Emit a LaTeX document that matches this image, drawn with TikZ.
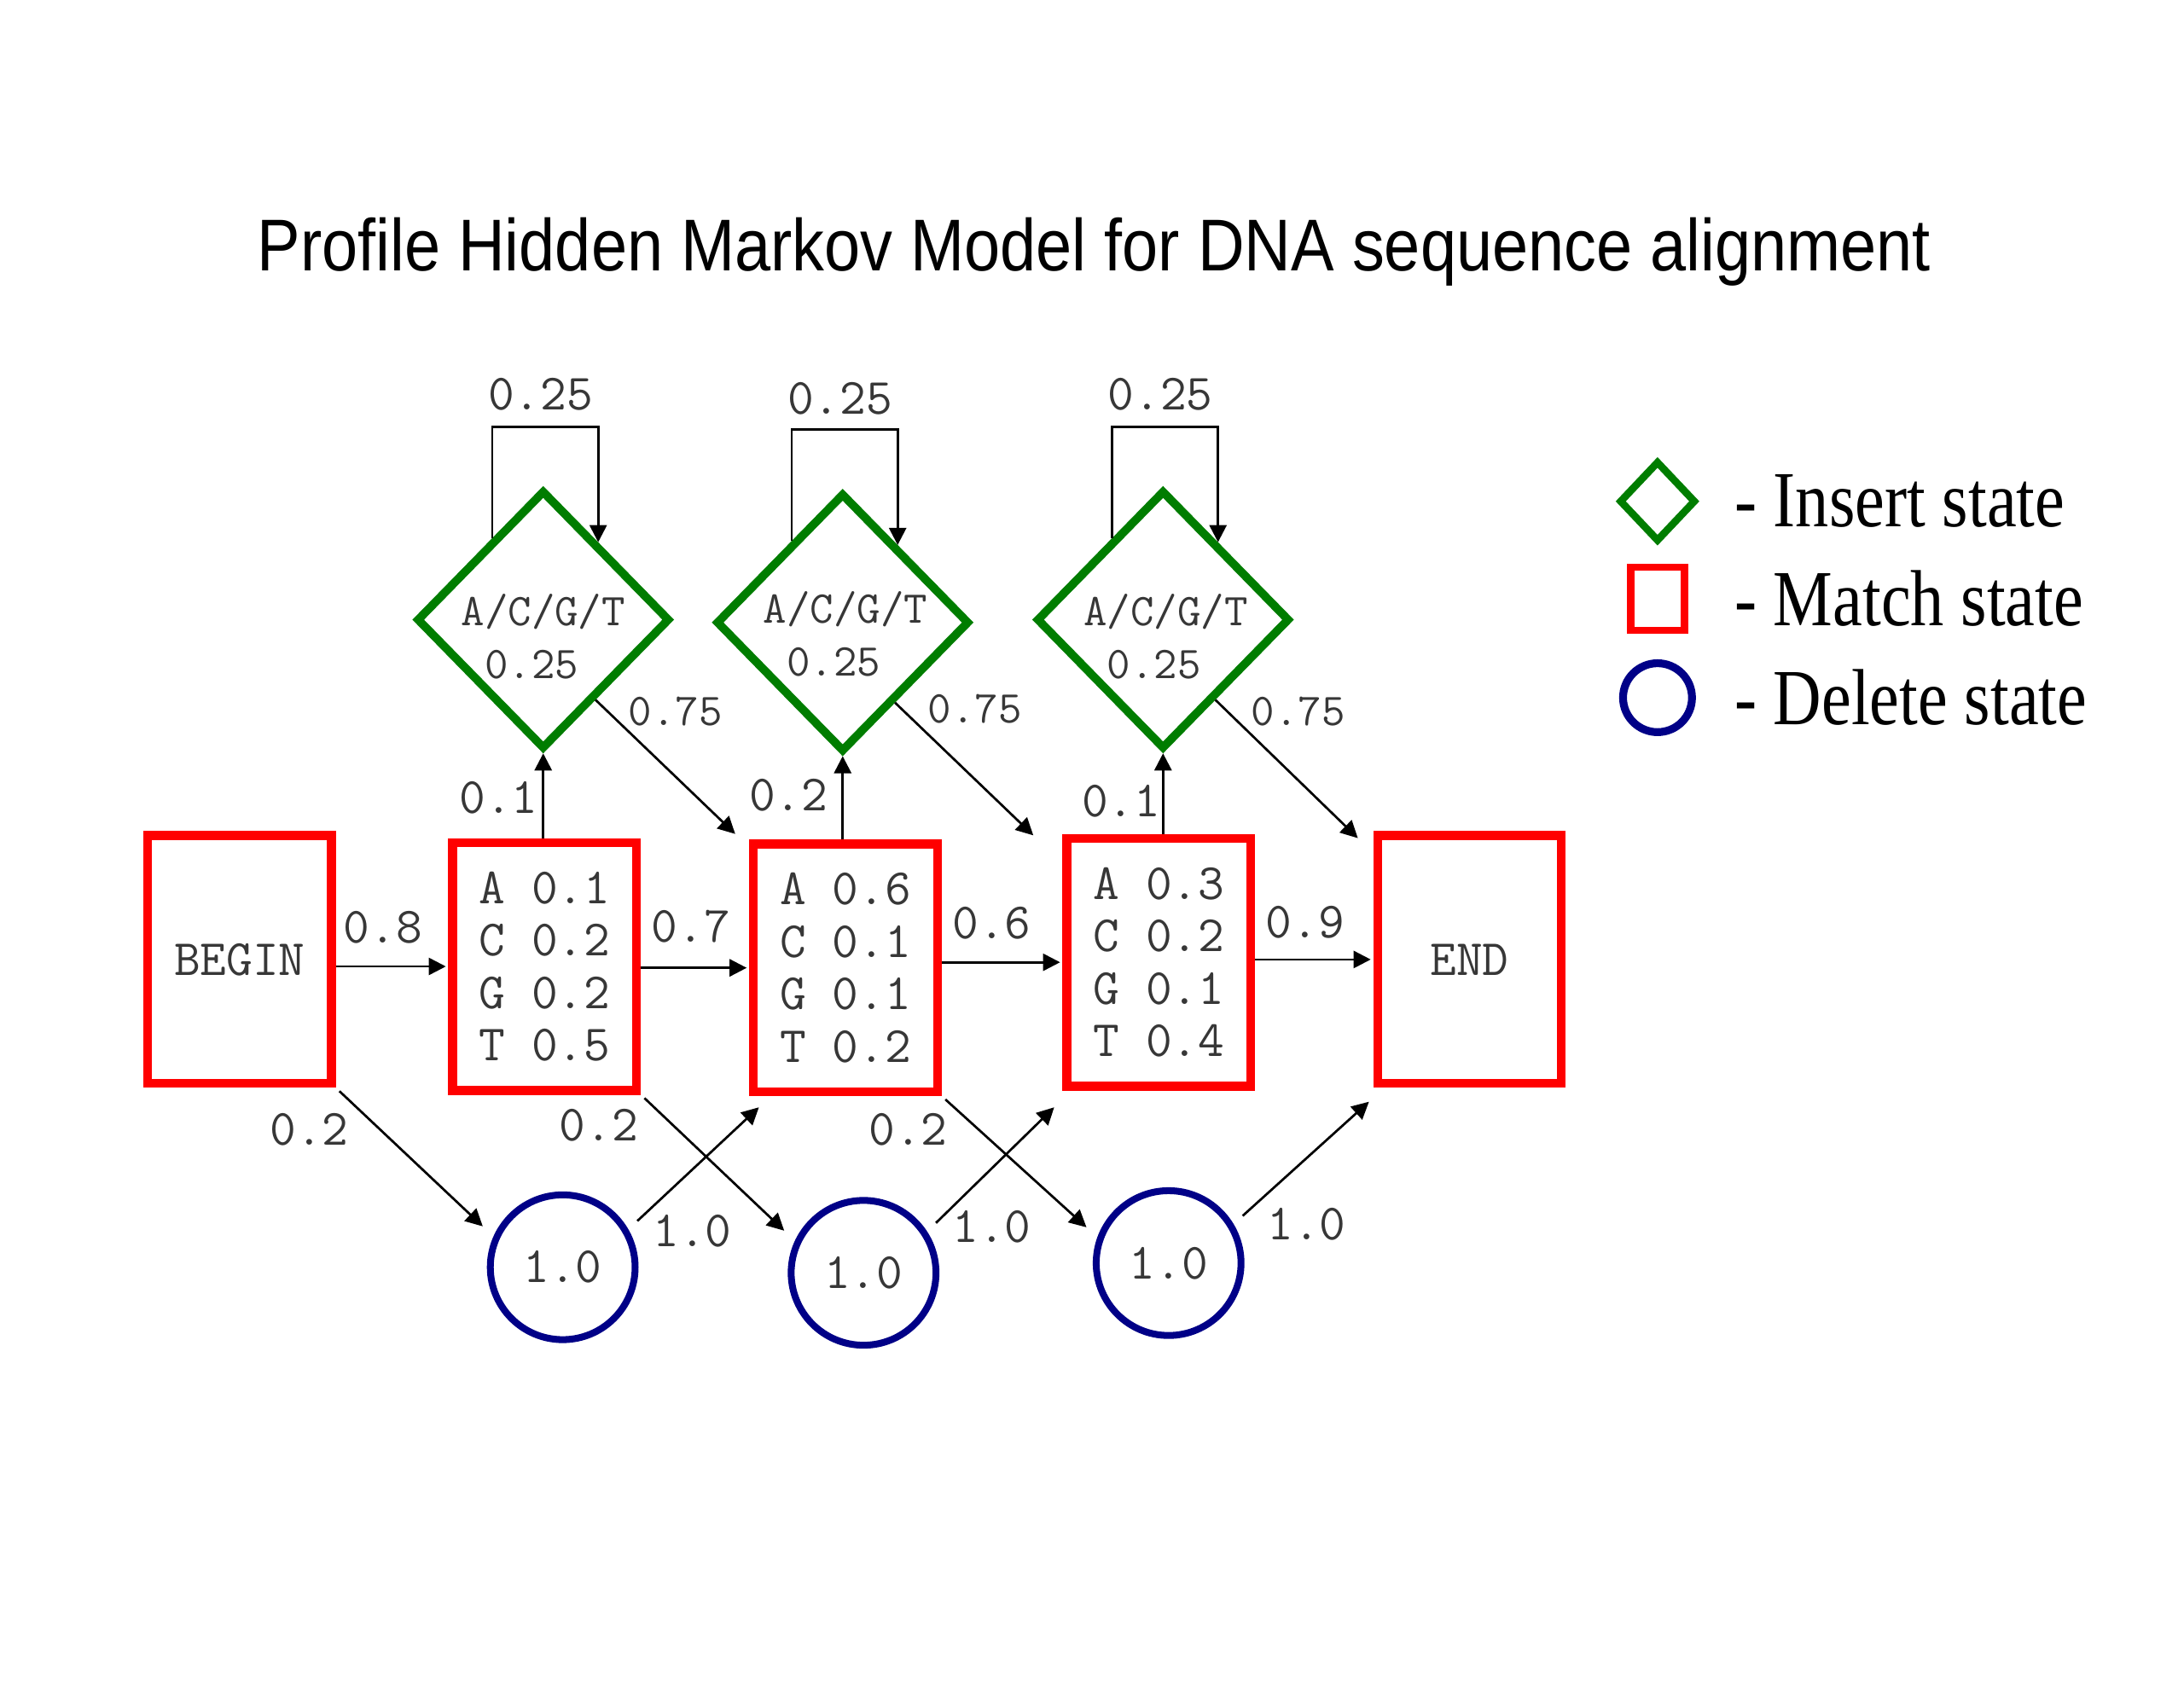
\documentclass[tikz,border=0pt]{standalone}
\usepackage{fontspec}
\setmainfont{Liberation Serif}
\newfontfamily\ptitle{Liberation Sans}
\usetikzlibrary{shapes.geometric,arrows.meta,calc}
\definecolor{mred}{RGB}{255,0,0}
\definecolor{igreen}{RGB}{0,125,0}
\definecolor{dblue}{RGB}{0,0,135}
\definecolor{txtgray}{RGB}{55,55,55}
\begin{document}
\begin{tikzpicture}[x=0.02cm,y=-0.02cm,
  matchbox/.style={draw=mred,line width=3.6pt,rectangle,inner sep=0pt,
    minimum width=2.64cm,minimum height=3.56cm,
    font=\ttfamily\fontsize{20.8}{21.4}\selectfont,text=txtgray,align=center},
  insertd/.style={draw=igreen,line width=3.4pt,diamond,inner sep=0pt,
    minimum width=3.64cm,minimum height=3.72cm},
  deletec/.style={draw=dblue,line width=2.8pt,circle,inner sep=0pt,
    minimum size=2.08cm,font=\ttfamily\fontsize{20.8}{21}\selectfont,text=txtgray},
  itext/.style={font=\ttfamily\fontsize{18.6}{21.6}\selectfont,text=txtgray,
    align=center,inner sep=0pt},
  plab/.style={font=\ttfamily\fontsize{20.8}{21}\selectfont,text=txtgray,inner sep=0pt},
  slab/.style={font=\ttfamily\fontsize{18.6}{21}\selectfont,text=txtgray,inner sep=0pt},
  arr/.style={draw=black,line width=0.95pt,-{Triangle[length=7pt,width=7pt]}},
  legtext/.style={font=\fontsize{32.5}{36}\selectfont,anchor=west,inner sep=0pt},
]
\useasboundingbox (0,0) rectangle (1568,1212);

% title
\node[font=\ptitle\fontsize{30}{36}\selectfont,inner sep=0pt] (title) at (785.5,181)
  {\scalebox{0.88}[1]{Profile Hidden Markov Model for DNA sequence alignment}};

% match / begin / end states
\node[matchbox] (beginbox) at (172,689) {BEGIN};
\node[matchbox] (m1) at (391,694) {A 0.1\\C 0.2\\G 0.2\\T 0.5};
\node[matchbox] (m2) at (607,695) {A 0.6\\C 0.1\\G 0.1\\T 0.2};
\node[matchbox] (m3) at (832,691) {A 0.3\\C 0.2\\G 0.1\\T 0.4};
\node[matchbox] (endbox) at (1055,689) {END};

% insert states
\node[insertd] (i1) at (390,445) {};
\node[insertd] (i2) at (605,447) {};
\node[insertd] (i3) at (835,445) {};
\node[itext] (i1t) at (390,457) {A/C/G/T\\0.25\phantom{0}};
\node[itext] (i2t) at (607,455) {A/C/G/T\\0.25\phantom{0}};
\node[itext] (i3t) at (837,457) {A/C/G/T\\0.25\phantom{0}};

% delete states
\node[deletec] (d1) at (404,910) {1.0};
\node[deletec] (d2) at (620,914) {1.0};
\node[deletec] (d3) at (839,907) {1.0};

% horizontal transitions
\draw[arr,shorten >=1pt] (beginbox.east |- m1.west) -- (m1.west);
\draw[arr,shorten >=1pt] (m1.east |- m2.west) -- (m2.west);
\draw[arr,shorten >=1pt] (m2.east |- m3.west) -- (m3.west);
\draw[arr,shorten >=1pt] (m3.east |- endbox.west) -- (endbox.west);
\node[plab] (l08) at (275,666) {0.8};
\node[plab] (l07) at (496,665) {0.7};
\node[plab] (l06) at (712,663) {0.6};
\node[plab] (l09) at (937,662) {0.9};

% match -> insert
\draw[arr] (i1.south |- m1.north) -- (i1.south);
\draw[arr] (i2.south |- m2.north) -- (i2.south);
\draw[arr] (i3.south |- m3.north) -- (i3.south);
\node[plab] (lmi1) at (358,573) {0.1};
\node[plab] (lmi2) at (566,571) {0.2};
\node[plab] (lmi3) at (805,575) {0.1};

% self loops
\foreach \i in {i1,i2,i3}{
  \coordinate (\i l) at ($(\i.north)!0.39!(\i.west)$);
  \coordinate (\i r) at ($(\i.north)!0.42!(\i.east)$);
  \draw[arr] (\i l) -- ++(0,-80) -| (\i r);
}
\node[plab] (ll1) at (388,283) {0.25};
\node[plab] (ll2) at (603,286) {0.25};
\node[plab] (ll3) at (833,283) {0.25};

% insert -> next match
\coordinate (i1s) at ($(i1.east)!0.6!(i1.south)$);
\coordinate (i2s) at ($(i2.east)!0.6!(i2.south)$);
\coordinate (i3s) at ($(i3.east)!0.6!(i3.south)$);
\coordinate (m2t) at ($(m2.north west)+(-10,-4)$);
\coordinate (m3t) at ($(m3.north west)+(-21,1)$);
\coordinate (endt) at ($(endbox.north west)+(-11,5)$);
\draw[arr] (i1s) -- (m2t);
\draw[arr] (i2s) -- (m3t);
\draw[arr] (i3s) -- (endt);
\node[slab] (lim1) at (485,511) {0.75};
\node[slab] (lim2) at (700,509) {0.75};
\node[slab] (lim3) at (932,511) {0.75};

% match -> delete
\draw[arr,shorten <=2pt,shorten >=6pt] (beginbox.south east) -- (d1.156);
\draw[arr,shorten <=2pt,shorten >=6pt] (m1.south east) -- (d2.155);
\draw[arr,shorten <=2pt,shorten >=6pt] (m2.south east) -- (d3.160);
\node[plab] (lmd1) at (222,811) {0.2};
\node[plab] (lmd2) at (430,808) {0.2};
\node[plab] (lmd3) at (652,811) {0.2};

% delete -> next match
\coordinate (m2b) at ($(m2.south west)+(7,8)$);
\coordinate (m3b) at ($(m3.south west)+(-6,12)$);
\coordinate (endb) at ($(endbox.south west)+(-3,10)$);
\draw[arr,shorten <=5pt] (d1.30) -- (m2b);
\draw[arr,shorten <=5pt] (d2.33) -- (m3b);
\draw[arr,shorten <=5pt] (d3.31) -- (endb);
\node[plab] (ldm1) at (497,884) {1.0};
\node[plab] (ldm2) at (712,881) {1.0};
\node[plab] (ldm3) at (938,879) {1.0};

% legend
\node[draw=igreen,line width=3pt,diamond,inner sep=0pt,
  minimum width=1.1cm,minimum height=1.16cm] (legi) at (1190,360) {};
\node[draw=mred,line width=3pt,rectangle,inner sep=0pt,
  minimum width=0.77cm,minimum height=0.91cm] (legm) at (1190,430) {};
\node[draw=dblue,line width=3.2pt,circle,inner sep=0pt,
  minimum size=0.99cm] (legd) at (1190,501) {};
\node[legtext] (legit) at (1245,360) {\scalebox{0.84}[1]{- Insert state}};
\node[legtext] (legmt) at (1245,430) {\scalebox{0.84}[1]{- Match state}};
\node[legtext] (legdt) at (1245,501) {\scalebox{0.84}[1]{- Delete state}};
\end{tikzpicture}
\end{document}
